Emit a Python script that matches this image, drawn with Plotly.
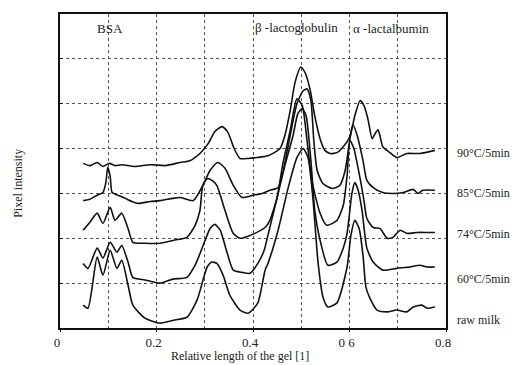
import plotly.graph_objects as go

# Relative length of the gel [1] and pixel intensity (arbitrary offset units)
x_90 = [0.048,0.062,0.077,0.089,0.102,0.114,0.128,0.155,0.187,0.218,0.249,0.269,0.290,0.307,0.321,0.336,0.348,0.361,0.373,0.390,0.408,0.431,0.456,0.466,0.477,0.487,0.499,0.508,0.518,0.528,0.539,0.549,0.560,0.574,0.587,0.601,0.611,0.622,0.630,0.638,0.647,0.653,0.659,0.663,0.669,0.684,0.698,0.719,0.746,0.777]
y_90 = [3.67,3.62,3.69,3.60,3.67,3.62,3.64,3.60,3.64,3.62,3.69,3.73,3.89,4.11,4.38,4.49,4.36,4.00,3.78,3.78,3.80,3.84,4.00,4.29,4.84,5.47,5.82,5.69,5.33,4.73,4.22,3.96,3.89,3.91,4.04,4.27,4.73,5.07,4.96,4.67,4.22,4.33,4.42,4.29,4.04,3.91,3.80,3.89,3.89,3.96]

x_85 = [0.048,0.062,0.077,0.089,0.095,0.099,0.104,0.108,0.120,0.135,0.160,0.187,0.207,0.234,0.249,0.276,0.296,0.311,0.327,0.342,0.359,0.377,0.400,0.419,0.435,0.452,0.462,0.477,0.491,0.504,0.512,0.520,0.526,0.533,0.545,0.564,0.580,0.591,0.601,0.607,0.616,0.628,0.636,0.649,0.669,0.690,0.711,0.732,0.742,0.752,0.777]
y_85 = [2.84,2.87,2.96,3.02,3.24,3.58,3.38,3.02,2.96,2.89,2.78,2.82,2.84,2.89,2.91,2.84,3.18,3.51,3.69,3.56,3.18,2.91,2.96,3.00,3.07,3.13,3.47,4.29,5.00,5.29,5.33,5.07,4.18,3.51,3.22,3.11,3.18,3.51,4.22,4.53,4.29,3.73,3.29,3.13,3.02,3.00,3.02,3.09,3.00,3.07,3.07]

x_74 = [0.048,0.062,0.077,0.089,0.104,0.114,0.128,0.141,0.151,0.176,0.207,0.238,0.263,0.280,0.290,0.296,0.305,0.315,0.325,0.342,0.359,0.373,0.383,0.404,0.425,0.435,0.450,0.462,0.477,0.491,0.502,0.512,0.522,0.539,0.553,0.574,0.587,0.595,0.601,0.609,0.622,0.630,0.636,0.649,0.663,0.678,0.690,0.705,0.719,0.740,0.761,0.777]
y_74 = [2.18,2.36,2.56,2.33,2.69,2.40,2.56,2.22,1.91,1.89,1.89,1.96,2.02,2.29,2.62,3.18,3.33,3.29,3.18,2.62,2.11,2.00,2.02,2.11,2.24,2.40,2.91,3.67,4.40,5.11,4.96,4.18,3.29,2.56,2.29,2.40,2.73,3.40,4.18,4.00,3.33,2.84,2.44,2.24,2.22,2.00,2.02,2.18,2.11,2.13,2.13,2.13]

x_60 = [0.048,0.058,0.077,0.089,0.104,0.118,0.128,0.141,0.151,0.176,0.207,0.234,0.263,0.280,0.301,0.311,0.321,0.332,0.346,0.359,0.377,0.394,0.410,0.423,0.431,0.446,0.466,0.483,0.493,0.502,0.510,0.520,0.528,0.539,0.555,0.574,0.587,0.595,0.605,0.611,0.618,0.626,0.636,0.649,0.669,0.698,0.725,0.746,0.761,0.777]
y_60 = [1.44,1.33,1.78,1.56,1.91,1.69,1.84,1.47,1.13,1.07,1.00,1.09,1.13,1.40,1.96,2.22,2.31,2.18,1.69,1.29,1.24,1.22,1.44,1.73,2.07,2.73,3.62,4.29,4.78,4.89,4.73,3.73,2.62,1.96,1.40,1.47,1.78,2.11,3.00,3.24,3.07,2.62,1.78,1.47,1.29,1.33,1.36,1.40,1.36,1.36]

x_raw = [0.048,0.058,0.077,0.089,0.104,0.118,0.128,0.141,0.151,0.176,0.207,0.238,0.263,0.284,0.305,0.315,0.325,0.338,0.352,0.373,0.390,0.410,0.425,0.431,0.452,0.473,0.491,0.504,0.514,0.524,0.535,0.545,0.555,0.574,0.595,0.603,0.611,0.620,0.628,0.634,0.642,0.657,0.678,0.698,0.719,0.732,0.750,0.761,0.777]
y_raw = [0.51,0.44,1.58,1.18,1.73,1.33,1.51,0.96,0.51,0.22,0.11,0.18,0.24,0.62,1.36,1.47,1.44,1.18,0.73,0.40,0.33,0.56,1.29,1.44,2.18,3.13,3.80,4.00,3.80,2.91,1.44,0.69,0.47,0.56,1.36,2.07,2.40,2.22,1.62,0.91,0.67,0.40,0.36,0.40,0.36,0.47,0.51,0.44,0.47]

series_labels = ["90°C/5min", "85°C/5min", "74°C/5min", "60°C/5min", "raw milk"]
label_y = [3.91, 3.02, 2.09, 1.09, 0.18]
band_names = ["BSA", "β -lactoglobulin", "α -lactalbumin"]
band_x = [0.104, 0.49, 0.686]

x_ticks = [0, 0.2, 0.4, 0.6, 0.8]
x_ticktext = ["0", "0.2", "0.4", "0 6", "0.8"]

FONT = "Liberation Serif"

fig = go.Figure()
for xs, ys, name in zip([x_90, x_85, x_74, x_60, x_raw],
                        [y_90, y_85, y_74, y_60, y_raw], series_labels):
    fig.add_trace(go.Scatter(x=xs, y=ys, mode="lines", name=name,
                             line=dict(color="#111111", width=1.6, shape="spline", smoothing=0.6),
                             showlegend=False, hoverinfo="skip"))

annotations = []
for txt, yv in zip(series_labels, label_y):
    annotations.append(dict(text=txt, x=1.023, xref="paper", y=yv, yref="y",
                            xanchor="left", yanchor="middle", showarrow=False,
                            font=dict(family=FONT, size=12, color="#222")))
for txt, xv, yv in zip(band_names, band_x, [0.955, 0.958, 0.953]):
    annotations.append(dict(text=txt, x=xv, xref="x", y=yv, yref="paper",
                            xanchor="center", yanchor="middle", showarrow=False,
                            font=dict(family=FONT, size=13, color="#222")))
annotations.append(dict(text="Relative length of the gel [1]", x=0.466, xref="paper",
                        y=-0.089, yref="paper", xanchor="center", yanchor="middle",
                        showarrow=False, font=dict(family=FONT, size=12, color="#222")))
annotations.append(dict(text="Pixel intensity", x=-0.109, xref="paper", y=0.462, yref="paper",
                        xanchor="center", yanchor="middle", textangle=-90, showarrow=False,
                        font=dict(family=FONT, size=12, color="#222")))

fig.update_layout(
    width=516, height=365,
    margin=dict(l=60, r=70, t=14, b=37),
    paper_bgcolor="white", plot_bgcolor="white",
    annotations=annotations,
    xaxis=dict(range=[0, 0.8], tickvals=x_ticks, ticktext=x_ticktext,
               showgrid=True, gridcolor="#555", griddash="dot", gridwidth=1,
               minor=dict(dtick=0.1, showgrid=True, gridcolor="#555", griddash="dot", gridwidth=1),
               showline=True, mirror=True, linecolor="#111", linewidth=1.5,
               ticks="outside", ticklen=2, tickcolor="#111",
               ticklabelshift=-3,
               zeroline=False, tickfont=dict(family=FONT, size=13, color="#222")),
    yaxis=dict(range=[0, 7], dtick=1, showticklabels=False,
               showgrid=True, gridcolor="#555", griddash="dot", gridwidth=1,
               showline=True, mirror=True, linecolor="#111", linewidth=1.8,
               ticks="inside", ticklen=3, tickcolor="#111", zeroline=False),
)

fig.write_html("out.html")
